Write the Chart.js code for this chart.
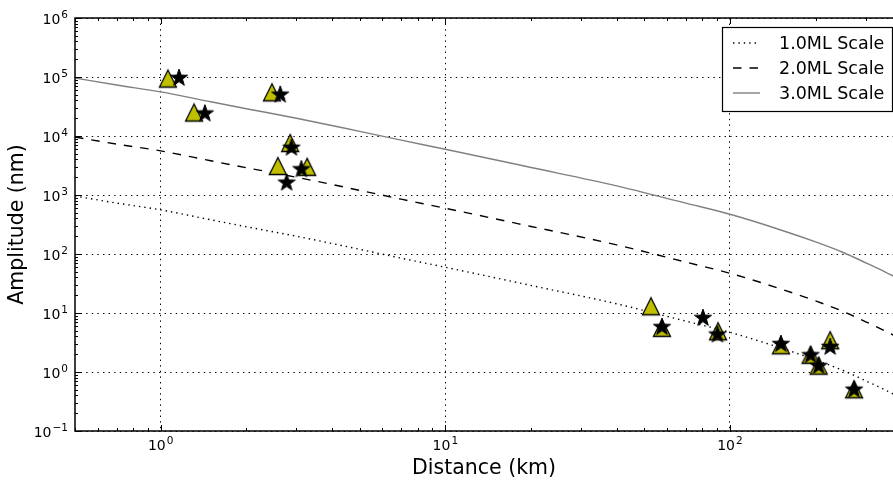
<!DOCTYPE html>
<html>
<head>
<meta charset="utf-8">
<script src="https://cdn.jsdelivr.net/npm/chart.js@4.4.1/dist/chart.umd.min.js"></script>
<style>
  html, body { margin: 0; padding: 0; overflow: hidden; background: #fff; }
  #ampChart { display: block; }
</style>
</head>
<body>
<canvas id="ampChart" width="893" height="480"></canvas>
<script>
(() => {
  'use strict'

  // station amplitudes: triangles and stars
  const triDist = [1.06, 1.31, 2.46, 2.85, 2.58, 3.27, 52.8, 57.7, 90.8, 151, 192, 205, 225, 273]
  const triAmp = [94000, 25000, 55000, 7600, 3100, 3000, 13.0, 5.6, 4.9, 2.84, 1.96, 1.28, 3.46, 0.51]
  const starDist = [1.16, 1.43, 2.63, 2.88, 2.77, 3.12, 57.7, 80.4, 90.4, 151, 192, 205, 225, 273]
  const starAmp = [96000, 24000, 50000, 6300, 1610, 2720, 5.75, 8.2, 4.3, 2.97, 1.92, 1.26, 2.65, 0.5]

  // attenuation curves for ML 1, 2 and 3
  const curveDist = [0.5, 0.7, 1, 1.5, 2, 3, 5, 7, 10, 20, 40, 70, 100, 150, 200, 250, 300, 350, 400]
  const ml3 = [96000, 73000, 56000, 38000, 29000, 20000, 12000, 8500, 5960, 2930, 1430, 728, 471, 258, 160, 106, 71, 50, 36]
  const ml2 = [9600, 7300, 5600, 3800, 2900, 2000, 1200, 850, 596, 293, 143, 72.8, 47.1, 25.8, 16.0, 10.6, 7.1, 5.0, 3.6]
  const ml1 = [960, 730, 560, 380, 290, 200, 120, 85, 59.6, 29.3, 14.3, 7.28, 4.71, 2.58, 1.60, 1.06, 0.71, 0.50, 0.36]
  const curveLabels = ['1.0ML Scale', '2.0ML Scale', '3.0ML Scale']

  // decade labels (powers of ten)
  const xTickExps = [0, 1, 2]
  const yTickExps = [-1, 0, 1, 2, 3, 4, 5, 6]

  const FONT = '"DejaVu Sans", sans-serif'
  Chart.defaults.font.family = FONT
  Chart.defaults.color = '#000'

  const toPoints = (xs, ys) => xs.map((v, i) => ({ x: v, y: ys[i] }))

  // 1..9 per decade, major on the decade
  function logTicks (lo, hi) {
    const out = []
    for (let e = Math.floor(Math.log10(lo)); e <= Math.ceil(Math.log10(hi)); e++) {
      for (let m = 1; m < 10; m++) {
        const v = m * Math.pow(10, e)
        if (v >= lo * 0.999 && v <= hi * 1.001) out.push({ value: v, major: m === 1 })
      }
    }
    return out
  }

  function triangleMarker () {
    const c = document.createElement('canvas')
    c.width = 22
    c.height = 22
    const g = c.getContext('2d')
    g.beginPath()
    g.moveTo(11, 2.5)
    g.lineTo(2.5, 19.5)
    g.lineTo(19.5, 19.5)
    g.closePath()
    g.fillStyle = '#bfbf00'
    g.fill()
    g.lineWidth = 1.3
    g.strokeStyle = '#000'
    g.stroke()
    return c
  }

  function starMarker () {
    const c = document.createElement('canvas')
    c.width = 22
    c.height = 22
    const g = c.getContext('2d')
    const R = 9
    const r = R * 0.4
    g.beginPath()
    for (let k = 0; k < 10; k++) {
      const ang = -Math.PI / 2 + k * Math.PI / 5
      const rad = k % 2 === 0 ? R : r
      const px = 11 + rad * Math.cos(ang)
      const py = 11 + rad * Math.sin(ang)
      if (k === 0) g.moveTo(px, py)
      else g.lineTo(px, py)
    }
    g.closePath()
    g.fillStyle = '#000'
    g.fill()
    g.lineWidth = 1
    g.strokeStyle = '#000'
    g.stroke()
    return c
  }

  function drawPower (ctx, exp, x, y, align) {
    const base = '10'
    const sup = exp < 0 ? '\u2212' + Math.abs(exp) : String(exp)
    ctx.font = '14px ' + FONT
    const wb = ctx.measureText(base).width
    ctx.font = '10.5px ' + FONT
    const ws = ctx.measureText(sup).width
    const left = align === 'right' ? x - wb - ws - 1 : x - (wb + ws + 1) / 2
    ctx.textAlign = 'left'
    ctx.textBaseline = 'alphabetic'
    ctx.fillStyle = '#000'
    ctx.font = '14px ' + FONT
    ctx.fillText(base, left, y)
    ctx.font = '10.5px ' + FONT
    ctx.fillText(sup, left + wb + 1, y - 6)
  }

  // axes frame (the right side runs off the canvas), inward ticks, decade labels
  const frameAndTicks = {
    id: 'frameAndTicks',
    afterDatasetsDraw (chart) {
      const { ctx, chartArea: a, scales: { x, y } } = chart
      ctx.save()
      ctx.strokeStyle = '#000'
      ctx.lineWidth = 1
      x.ticks.forEach(t => {
        const px = Math.round(x.getPixelForValue(t.value)) + 0.5
        const len = t.major ? 6 : 3
        ctx.beginPath()
        ctx.moveTo(px, a.bottom)
        ctx.lineTo(px, a.bottom - len)
        ctx.moveTo(px, a.top)
        ctx.lineTo(px, a.top + len)
        ctx.stroke()
      })
      y.ticks.forEach(t => {
        const py = Math.round(y.getPixelForValue(t.value)) + 0.5
        const len = t.major ? 6 : 3
        ctx.beginPath()
        ctx.moveTo(a.left, py)
        ctx.lineTo(a.left + len, py)
        ctx.stroke()
      })
      ctx.lineWidth = 1.5
      ctx.beginPath()
      ctx.moveTo(a.right + 2, a.top)
      ctx.lineTo(a.left, a.top)
      ctx.lineTo(a.left, a.bottom)
      ctx.lineTo(a.right + 2, a.bottom)
      ctx.stroke()

      xTickExps.forEach(e => {
        drawPower(ctx, e, x.getPixelForValue(Math.pow(10, e)), a.bottom + 19, 'center')
      })
      yTickExps.forEach(e => {
        drawPower(ctx, e, a.left - 7, y.getPixelForValue(Math.pow(10, e)) + 5.5, 'right')
      })
      ctx.restore()
    }
  }

  // boxed legend in the upper right corner of the axes
  const insetLegend = {
    id: 'insetLegend',
    afterDraw (chart) {
      const { ctx, chartArea: a } = chart
      const w = 170
      const h = 84
      const left = a.right - 1 - w
      const top = a.top + 9
      ctx.save()
      ctx.fillStyle = '#fff'
      ctx.fillRect(left, top, w, h)
      ctx.strokeStyle = '#000'
      ctx.lineWidth = 1.2
      ctx.strokeRect(left + 0.5, top + 0.5, w, h)
      chart.data.datasets.filter(d => d.inLegend).forEach((d, i) => {
        const ry = top + 16 + i * 25
        ctx.strokeStyle = d.borderColor
        ctx.lineWidth = d.borderWidth
        ctx.setLineDash(d.borderDash || [])
        ctx.beginPath()
        ctx.moveTo(left + 11, ry)
        ctx.lineTo(left + 38, ry)
        ctx.stroke()
        ctx.setLineDash([])
        ctx.fillStyle = '#000'
        ctx.font = '17.5px ' + FONT
        ctx.textAlign = 'left'
        ctx.textBaseline = 'middle'
        ctx.fillText(d.label, left + 57, ry + 1)
      })
      ctx.restore()
    }
  }

  const curve = (label, values, color, dash) => ({
    label,
    data: toPoints(curveDist, values),
    showLine: true,
    pointRadius: 0,
    borderColor: color,
    borderWidth: 1.4,
    borderDash: dash,
    cubicInterpolationMode: 'monotone',
    fill: false,
    order: 2,
    inLegend: true
  })

  const gridColor = c => (c.tick && c.tick.major) ? '#000' : 'rgba(0,0,0,0)'

  const ctx = document.getElementById('ampChart')
  // eslint-disable-next-line no-unused-vars
  const ampChart = new Chart(ctx, {
    type: 'scatter',
    data: {
      datasets: [
        curve(curveLabels[0], ml1, '#000', [1.4, 4]),
        curve(curveLabels[1], ml2, '#000', [8.5, 8]),
        curve(curveLabels[2], ml3, '#808080', []),
        {
          label: 'triangles',
          data: toPoints(triDist, triAmp),
          pointStyle: triangleMarker(),
          pointRadius: 9,
          order: 1
        },
        {
          label: 'stars',
          data: toPoints(starDist, starAmp),
          pointStyle: starMarker(),
          pointRadius: 9,
          order: 0
        }
      ]
    },
    options: {
      responsive: false,
      animation: false,
      events: [],
      layout: { autoPadding: false, padding: { top: 18, right: 0, bottom: 0, left: 0 } },
      scales: {
        x: {
          type: 'logarithmic',
          position: 'bottom',
          min: 0.5,
          max: 374,
          afterBuildTicks: s => { s.ticks = logTicks(0.5, 374) },
          ticks: { display: false },
          grid: { drawTicks: false, color: gridColor, lineWidth: 1 },
          border: { display: false, dash: [1.4, 4.2] },
          title: {
            display: true,
            text: 'Distance (km)',
            color: '#000',
            font: { size: 20.5, lineHeight: 1 },
            padding: { top: 27.75, bottom: 0.75 }
          }
        },
        y: {
          type: 'logarithmic',
          position: 'left',
          min: 0.1,
          max: 1e6,
          afterBuildTicks: s => { s.ticks = logTicks(0.1, 1e6) },
          ticks: { display: false },
          grid: { drawTicks: false, color: gridColor, lineWidth: 1 },
          border: { display: false, dash: [1.4, 4.2] },
          title: {
            display: true,
            text: 'Amplitude (nm)',
            color: '#000',
            font: { size: 20.5, lineHeight: 1 },
            padding: { top: 7.75, bottom: 46.75 }
          }
        }
      },
      plugins: {
        legend: { display: false },
        tooltip: { enabled: false }
      }
    },
    plugins: [frameAndTicks, insetLegend]
  })
})()
</script>
</body>
</html>
